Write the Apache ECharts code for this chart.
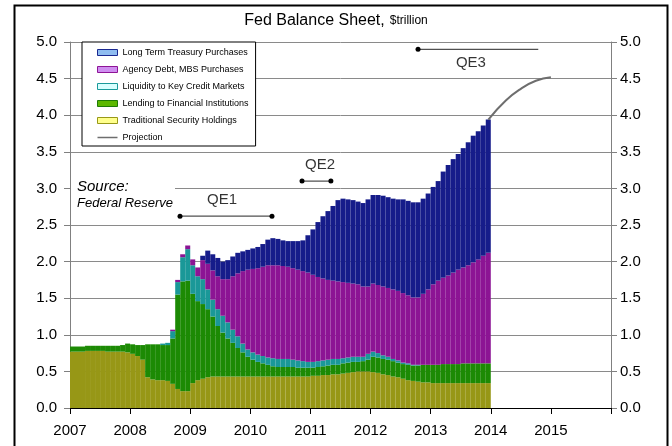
<!DOCTYPE html>
<html>
<head>
<meta charset="utf-8">
<script src="https://cdn.jsdelivr.net/npm/echarts@6/dist/echarts.min.js"></script>
<style>
  html, body { margin: 0; padding: 0; background: #fff; }
  #chart { width: 672px; height: 446px; }
</style>
</head>
<body>
<div id="chart"></div>
<script>
// Monthly Fed balance sheet components, Jan 2007 - Dec 2013 ($ trillion)
const startYear = 2007;
const endYear = 2016;

const traditional = [
  0.77,0.77,0.77,0.78,0.78,0.78,0.78,0.77,0.77,0.77,0.77,0.76,
  0.74,0.71,0.66,0.42,0.39,0.38,0.38,0.37,0.33,0.26,0.23,0.23,
  0.34,0.38,0.40,0.42,0.43,0.43,0.43,0.43,0.43,0.43,0.43,0.43,
  0.43,0.43,0.43,0.43,0.43,0.43,0.43,0.43,0.43,0.43,0.43,0.43,
  0.44,0.44,0.45,0.45,0.46,0.46,0.47,0.48,0.49,0.50,0.50,0.50,
  0.49,0.48,0.46,0.45,0.43,0.42,0.40,0.38,0.37,0.36,0.35,0.35,
  0.34,0.34,0.34,0.34,0.34,0.34,0.34,0.34,0.34,0.34,0.34,0.34
];
const lending = [
  0.07,0.07,0.07,0.07,0.07,0.07,0.07,0.08,0.08,0.08,0.09,0.12,
  0.13,0.15,0.20,0.45,0.48,0.49,0.48,0.49,0.62,1.29,1.50,1.51,
  1.22,1.08,1.02,0.93,0.82,0.69,0.60,0.52,0.46,0.39,0.33,0.27,
  0.23,0.20,0.18,0.16,0.14,0.13,0.13,0.13,0.13,0.12,0.12,0.12,
  0.11,0.12,0.12,0.13,0.13,0.13,0.14,0.14,0.14,0.13,0.14,0.16,
  0.21,0.21,0.21,0.21,0.21,0.20,0.20,0.21,0.21,0.22,0.24,0.24,
  0.25,0.25,0.26,0.26,0.26,0.26,0.27,0.27,0.27,0.27,0.27,0.27
];
const liquidity = [
  0,0,0,0,0,0,0,0,0,0,0,0,
  0,0,0,0,0,0,0.02,0.03,0.10,0.17,0.33,0.43,
  0.39,0.34,0.34,0.27,0.23,0.23,0.23,0.22,0.18,0.16,0.12,0.10,
  0.10,0.10,0.10,0.10,0.11,0.11,0.11,0.11,0.10,0.10,0.09,0.08,
  0.08,0.08,0.08,0.08,0.08,0.08,0.07,0.07,0.07,0.07,0.06,0.08,
  0.07,0.06,0.05,0.04,0.03,0.03,0.02,0.02,0.01,0.01,0,0,
  0,0,0,0,0,0,0,0,0,0,0,0
];
const agencyMbs = [
  0,0,0,0,0,0,0,0,0,0,0,0,
  0,0,0,0,0,0,0,0,0.02,0.03,0.04,0.05,
  0.08,0.12,0.26,0.35,0.40,0.45,0.50,0.59,0.73,0.86,0.99,1.09,
  1.14,1.18,1.22,1.26,1.27,1.28,1.27,1.26,1.25,1.24,1.23,1.22,
  1.19,1.15,1.12,1.09,1.07,1.06,1.04,1.02,1.00,0.99,0.96,0.92,
  0.93,0.93,0.94,0.94,0.95,0.95,0.95,0.93,0.92,0.92,0.97,1.03,
  1.10,1.15,1.18,1.21,1.25,1.29,1.31,1.34,1.38,1.42,1.47,1.51
];
const treasury = [
  0,0,0,0,0,0,0,0,0,0,0,0,
  0,0,0,0,0,0,0,0,0,0,0,0,
  0,0,0.06,0.18,0.22,0.25,0.24,0.26,0.27,0.28,0.27,0.27,
  0.28,0.29,0.31,0.35,0.37,0.36,0.35,0.35,0.37,0.39,0.42,0.51,
  0.62,0.75,0.85,0.94,1.02,1.11,1.14,1.14,1.14,1.13,1.14,1.19,
  1.21,1.23,1.24,1.24,1.24,1.25,1.28,1.29,1.30,1.30,1.30,1.31,
  1.33,1.36,1.45,1.51,1.55,1.58,1.63,1.68,1.73,1.75,1.78,1.82
];

// Projected path of the total balance sheet
const projYears  = [2013.96, 2014.25, 2014.5, 2014.75, 2015.0];
const projValues = [3.94, 4.20, 4.36, 4.47, 4.52];

// Programme spans: [start, end, level]
const qe1 = [2008.83, 2010.36, 2.62];
const qe2 = [2010.86, 2011.34, 3.10];
const qe3 = [2012.79, 2014.79, 4.90];
const qeLabels = [
  { name: 'QE1', value: [2009.53, 2.84] },
  { name: 'QE2', value: [2011.16, 3.32] },
  { name: 'QE3', value: [2013.67, 4.71] }
];

const valueTicks = { min: 0, max: 5, step: 0.5 };

const FONT = 'Liberation Sans, Arial, sans-serif';

// one slot per month across the whole horizontal range
const monthSlots = [];
for (let y = startYear; y < endYear; y++) {
  for (let m = 1; m <= 12; m++) monthSlots.push(y + '-' + (m < 10 ? '0' + m : m));
}

const fills = {
  traditional: '#979716',
  lending: '#1c8a04',
  liquidity: '#1a9898',
  agency: '#8c1494',
  treasury: '#161c8a'
};

function barSeries(name, arr, color) {
  return {
    name: name,
    type: 'bar',
    stack: 'fed',
    xAxisIndex: 0,
    yAxisIndex: 0,
    barWidth: '100%',
    barCategoryGap: '0%',
    data: arr,
    itemStyle: { color: color },
    emphasis: { disabled: true },
    silent: true,
    animation: false
  };
}

function spanSeries(span, endDot) {
  return {
    type: 'line',
    xAxisIndex: 1,
    silent: true,
    animation: false,
    symbol: 'circle',
    symbolSize: 5,
    itemStyle: { color: '#000' },
    lineStyle: { color: '#505050', width: 1.3 },
    data: [
      [span[0], span[2]],
      endDot ? [span[1], span[2]] : { value: [span[1], span[2]], symbol: 'none' }
    ],
    z: 5
  };
}

const tickLabelSize = 15;

const chart = echarts.init(document.getElementById('chart'), null, { renderer: 'canvas' });

chart.setOption({
  backgroundColor: '#fff',
  animation: false,
  textStyle: { fontFamily: FONT },
  title: {
    left: 'center',
    top: 7,
    text: '{a|Fed Balance Sheet,} {b|$trillion}',
    textStyle: {
      rich: {
        a: { fontSize: 16, fontWeight: 'normal', fontFamily: FONT, color: '#000' },
        b: { fontSize: 12, fontWeight: 'normal', fontFamily: FONT, color: '#000' }
      }
    }
  },
  grid: { left: 70, right: 61, top: 42, bottom: 38 },
  legend: {
    left: 82,
    top: 42,
    orient: 'vertical',
    itemWidth: 20,
    itemHeight: 6,
    itemGap: 6,
    padding: [5, 7, 3, 15],
    backgroundColor: '#fff',
    borderColor: '#000',
    borderWidth: 1,
    selectedMode: false,
    textStyle: { fontSize: 9, fontFamily: FONT, color: '#000', lineHeight: 11 },
    data: [
      { name: 'Long Term Treasury Purchases', icon: 'rect',
        itemStyle: { color: '#8fbcf0', borderColor: '#1a2890', borderWidth: 1 } },
      { name: 'Agency Debt, MBS Purchases', icon: 'rect',
        itemStyle: { color: '#cf8ef0', borderColor: '#8e1496', borderWidth: 1 } },
      { name: 'Liquidity to Key Credit Markets', icon: 'rect',
        itemStyle: { color: '#d8ffff', borderColor: '#1a9a9a', borderWidth: 1 } },
      { name: 'Lending to Financial Institutions', icon: 'rect',
        itemStyle: { color: '#5cb800', borderColor: '#1e7a06', borderWidth: 1 } },
      { name: 'Traditional Security Holdings', icon: 'rect',
        itemStyle: { color: '#ffff8c', borderColor: '#989818', borderWidth: 1 } },
      { name: 'Projection', icon: 'path://M0,0L40,0L40,3L0,3Z',
        itemStyle: { color: '#6e6e6e', borderWidth: 0 } }
    ]
  },
  xAxis: [
    {
      type: 'category',
      data: monthSlots,
      boundaryGap: true,
      show: false
    },
    {
      type: 'value',
      min: startYear,
      max: endYear,
      interval: 1,
      position: 'bottom',
      axisLine: { show: true, onZero: false, lineStyle: { color: '#000', width: 1 } },
      axisTick: { show: true, length: 6, lineStyle: { color: '#000' } },
      splitLine: { show: false },
      axisLabel: {
        margin: 15,
        fontSize: tickLabelSize,
        fontFamily: FONT,
        color: '#000',
        formatter: v => (v === endYear ? '' : String(v))
      }
    }
  ],
  yAxis: [
    {
      type: 'value',
      position: 'left',
      min: valueTicks.min,
      max: valueTicks.max,
      interval: valueTicks.step,
      axisLine: { show: true, lineStyle: { color: '#808080' } },
      axisTick: { show: true, length: 6, lineStyle: { color: '#808080' } },
      splitLine: { show: true, lineStyle: { color: '#8a8a8a', width: 1 } },
      axisLabel: { margin: 13, fontSize: tickLabelSize, fontFamily: FONT, color: '#000',
        formatter: v => v.toFixed(1) }
    },
    {
      type: 'value',
      position: 'right',
      min: valueTicks.min,
      max: valueTicks.max,
      interval: valueTicks.step,
      axisLine: { show: true, lineStyle: { color: '#808080' } },
      axisTick: { show: true, length: 6, lineStyle: { color: '#808080' } },
      splitLine: { show: false },
      axisLabel: { margin: 9, fontSize: tickLabelSize, fontFamily: FONT, color: '#000',
        formatter: v => v.toFixed(1) }
    }
  ],
  series: [
    barSeries('Traditional Security Holdings', traditional, fills.traditional),
    barSeries('Lending to Financial Institutions', lending, fills.lending),
    barSeries('Liquidity to Key Credit Markets', liquidity, fills.liquidity),
    barSeries('Agency Debt, MBS Purchases', agencyMbs, fills.agency),
    barSeries('Long Term Treasury Purchases', treasury, fills.treasury),
    {
      name: 'Projection',
      type: 'line',
      xAxisIndex: 1,
      smooth: true,
      symbol: 'none',
      silent: true,
      animation: false,
      itemStyle: { color: '#6e6e6e' },
      lineStyle: { color: '#6e6e6e', width: 2 },
      data: projYears.map((y, i) => [y, projValues[i]]),
      z: 4
    },
    spanSeries(qe1, true),
    spanSeries(qe2, true),
    spanSeries(qe3, false),
    {
      type: 'scatter',
      xAxisIndex: 1,
      silent: true,
      animation: false,
      symbolSize: 0,
      data: qeLabels,
      label: {
        show: true,
        position: 'inside',
        formatter: '{b}',
        fontSize: 15,
        fontFamily: FONT,
        color: '#000'
      },
      z: 6
    }
  ],
  graphic: [
    {
      type: 'rect',
      left: 12, top: 3,
      shape: { width: 653, height: 460 },
      style: { fill: 'none', stroke: '#000', lineWidth: 2 },
      silent: true,
      z: 100
    },
    {
      type: 'rect',
      left: 71, top: 178,
      shape: { width: 104, height: 34 },
      style: { fill: '#fff' },
      silent: true,
      z: 50
    },
    {
      type: 'text',
      left: 77, top: 179,
      style: { text: 'Source:', font: 'italic 15px ' + FONT, fill: '#000' },
      silent: true,
      z: 51
    },
    {
      type: 'text',
      left: 77, top: 197,
      style: { text: 'Federal Reserve', font: 'italic 13px ' + FONT, fill: '#000' },
      silent: true,
      z: 51
    }
  ]
});
</script>
</body>
</html>
